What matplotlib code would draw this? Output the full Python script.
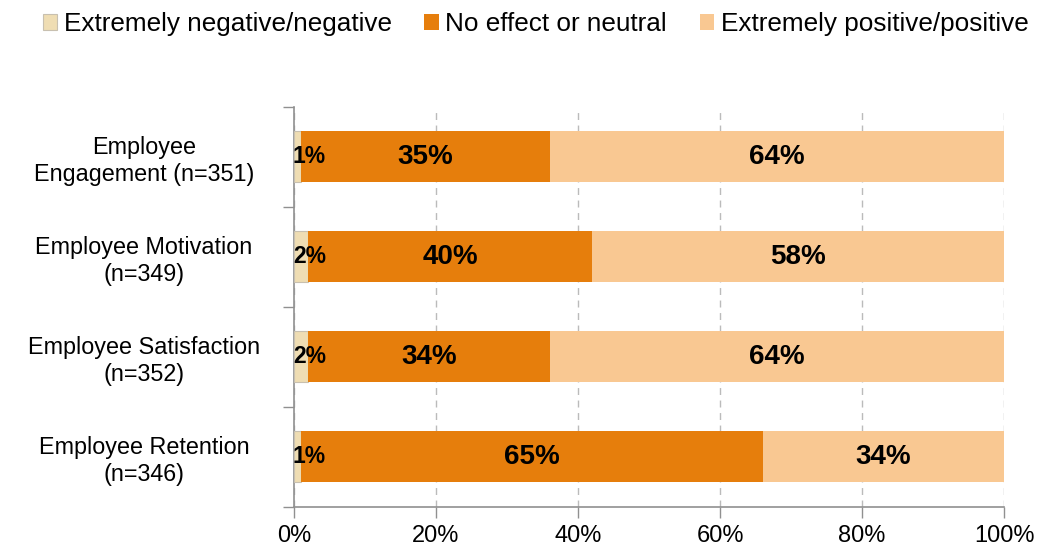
import numpy as np
import matplotlib
matplotlib.use("Agg")
import matplotlib.pyplot as plt
from matplotlib.ticker import FixedLocator, PercentFormatter

plt.rcParams['font.family'] = ['Liberation Sans', 'DejaVu Sans']

categories = ["Employee\nEngagement (n=351)", "Employee Motivation\n(n=349)",
              "Employee Satisfaction\n(n=352)", "Employee Retention\n(n=346)"]
negative = [1, 2, 2, 1]
neutral = [35, 40, 34, 65]
positive = [64, 58, 64, 34]
series = ["Extremely negative/negative", "No effect or neutral", "Extremely positive/positive"]
colors = ["#EFDDB3", "#E67E0C", "#F9C892"]

fig = plt.figure(figsize=(10.4, 5.5), dpi=100)
ax = fig.add_axes([0.2827, 0.0782, 0.6827, 0.7273])

y = np.arange(len(categories))
left = np.zeros(len(categories))
for vals, name, c in zip([negative, neutral, positive], series, colors):
    vals = np.array(vals, dtype=float)
    ec = "#C8C0B0" if c == colors[0] else "none"
    ax.barh(y, vals, left=left, height=0.51, color=c, label=name,
            edgecolor=ec, linewidth=0.8, zorder=3)
    for yi, l, v in zip(y, left, vals):
        if v < 5:
            ax.text(l - 0.15, yi, f"{v:.0f}%", ha='left', va='center',
                    fontsize=16.5, fontweight='bold', zorder=4)
        else:
            ax.text(l + v / 2, yi, f"{v:.0f}%", ha='center', va='center',
                    fontsize=20, fontweight='bold', zorder=4)
    left += vals

ax.set_xlim(0, 100)
ax.set_ylim(len(categories) - 0.5, -0.5)
ax.set_xticks([0, 20, 40, 60, 80, 100])
ax.xaxis.set_major_formatter(PercentFormatter(decimals=0))
ax.tick_params(axis='x', length=8, width=1, color='#909090', labelsize=17, pad=5)

ax.set_yticks(y)
ax.set_yticklabels(categories, ha='center', multialignment='center')
ax.yaxis.set_minor_locator(FixedLocator(np.arange(-0.5, len(categories), 1)))
ax.tick_params(axis='y', which='major', length=0, labelsize=16.8, pad=108)
ax.tick_params(axis='y', which='minor', length=8, width=1, color='#909090')

ax.grid(axis='x', linestyle=(0, (5, 4)), color='#BBBBBB', linewidth=1, zorder=0)
for s in ['top', 'right']:
    ax.spines[s].set_visible(False)
for s in ['left', 'bottom']:
    ax.spines[s].set_color('#909090')
    ax.spines[s].set_linewidth(1.2)

fig.legend(loc='center', bbox_to_anchor=(0.515, 0.956), ncol=3, frameon=False,
           fontsize=18.8, handlelength=0.55, handleheight=0.55, handletextpad=0.25,
           columnspacing=1.25, borderaxespad=0, borderpad=0)

fig.savefig("out.png", dpi=100)
